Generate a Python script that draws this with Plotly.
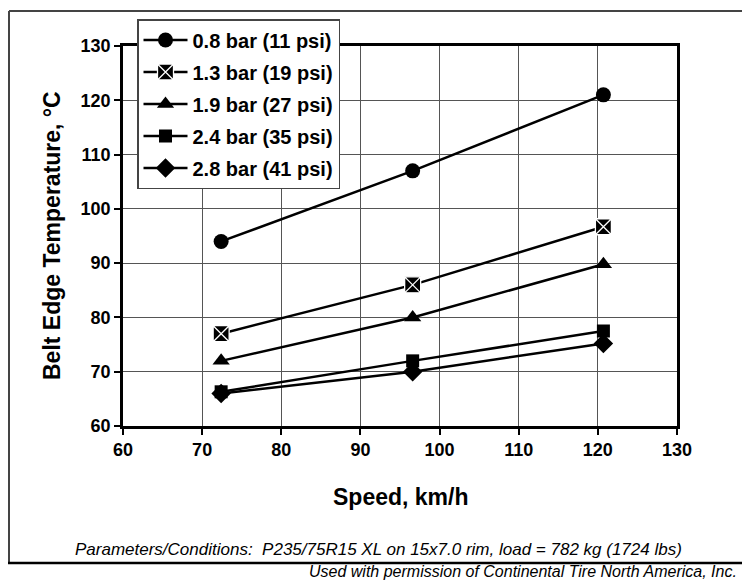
import plotly.graph_objects as go

# ---- data ----
speed_kmh = [72.4, 96.6, 120.7]
series_names = ["0.8 bar (11 psi)", "1.3 bar (19 psi)", "1.9 bar (27 psi)",
                "2.4 bar (35 psi)", "2.8 bar (41 psi)"]
temp_08 = [94, 107, 121]
temp_13 = [77, 86, 96.7]
temp_19 = [72, 80, 89.8]
temp_24 = [66.3, 72, 77.5]
temp_28 = [66, 70, 75.2]
series_values = [temp_08, temp_13, temp_19, temp_24, temp_28]

x_ticks = [60, 70, 80, 90, 100, 110, 120, 130]
y_ticks = [60, 70, 80, 90, 100, 110, 120, 130]

x_title = "Speed, km/h"
y_title = "Belt Edge Temperature, °C"
note_text = "Parameters/Conditions:  P235/75R15 XL on 15x7.0 rim, load = 782 kg (1724 lbs)"
credit_text = "Used with permission of Continental Tire North America, Inc."

# ---- styles ----
W, H = 742, 580
L, R, T, B = 123, 677, 46, 426   # plot area in pixels
FONT = "Liberation Sans, Arial, sans-serif"

symbols = ["circle", "square-x", "triangle-up", "square", "diamond"]
sizes = [15, 16, 15, 13, 15]
line_colors = ["black", "white", "black", "black", "black"]
line_widths = [0, 1.3, 0, 0, 0]


def px(xp):
    return (xp - L) / (R - L)


def py(yp):
    return (B - yp) / (B - T)


fig = go.Figure()
for i, (name, vals) in enumerate(zip(series_names, series_values)):
    fig.add_trace(go.Scatter(
        x=speed_kmh, y=vals, name=f"<b>{name}</b>", mode="lines+markers",
        legendgroup=f"g{i}",
        line=dict(color="black", width=2.5),
        marker=dict(symbol=symbols[i], size=sizes[i], color="black",
                    line=dict(color=line_colors[i], width=line_widths[i])),
    ))

axis_common = dict(
    showline=True, linecolor="black", linewidth=2.5, mirror=True,
    showgrid=True, gridcolor="#555555", gridwidth=1.2,
    ticks="outside", ticklen=6, tickwidth=1.5, tickcolor="black",
    tickfont=dict(family=FONT, size=18, color="black"),
    zeroline=False,
)

fig.update_xaxes(range=[60, 130], tickvals=x_ticks,
                 ticktext=[f"<b>{v}</b>" for v in x_ticks], **axis_common)
fig.update_yaxes(range=[60, 130], tickvals=y_ticks,
                 ticktext=[f"<b>{v}</b>" for v in y_ticks], **axis_common)

fig.update_layout(
    width=W, height=H,
    margin=dict(l=L, r=W - R, t=T, b=H - B),
    paper_bgcolor="white", plot_bgcolor="white",
    font=dict(family=FONT, color="black"),
    showlegend=True,
    legend=dict(
        x=px(137), y=py(19), xanchor="left", yanchor="top",
        bgcolor="white", bordercolor="#444444", borderwidth=1.5,
        font=dict(family=FONT, size=20, color="black"),
        tracegroupgap=3, itemwidth=44,
    ),
)

# axis titles
fig.add_annotation(x=px(400), y=py(497), xref="paper", yref="paper",
                   xanchor="center", yanchor="middle",
                   text=f"<b>{x_title}</b>", showarrow=False,
                   font=dict(family=FONT, size=23, color="black"))
fig.add_annotation(x=px(52), y=py(236), xref="paper", yref="paper",
                   xanchor="center", yanchor="middle",
                   text=f"<b>{y_title}</b>", showarrow=False, textangle=-90,
                   font=dict(family=FONT, size=23, color="black"))

# footnotes
fig.add_annotation(x=px(378), y=py(561), xref="paper", yref="paper",
                   xanchor="center", yanchor="bottom",
                   text=f"<i>{note_text}</i>", showarrow=False,
                   font=dict(family=FONT, size=17, color="black"))
fig.add_annotation(x=px(739), y=py(571), xref="paper", yref="paper",
                   xanchor="right", yanchor="middle",
                   text=f"<i>{credit_text}</i>", showarrow=False,
                   font=dict(family=FONT, size=16, color="black"))

# outer frame (top and left edges) and bottom rule
fig.add_shape(type="line", xref="paper", yref="paper",
              x0=px(9), y0=py(11), x1=px(742), y1=py(11),
              line=dict(color="#444444", width=2), layer="below")
fig.add_shape(type="line", xref="paper", yref="paper",
              x0=px(9), y0=py(11), x1=px(9), y1=py(563),
              line=dict(color="#444444", width=2), layer="below")
fig.add_shape(type="line", xref="paper", yref="paper",
              x0=px(8), y0=py(563), x1=px(742), y1=py(563),
              line=dict(color="black", width=2.5))

fig.write_html("out.html")
